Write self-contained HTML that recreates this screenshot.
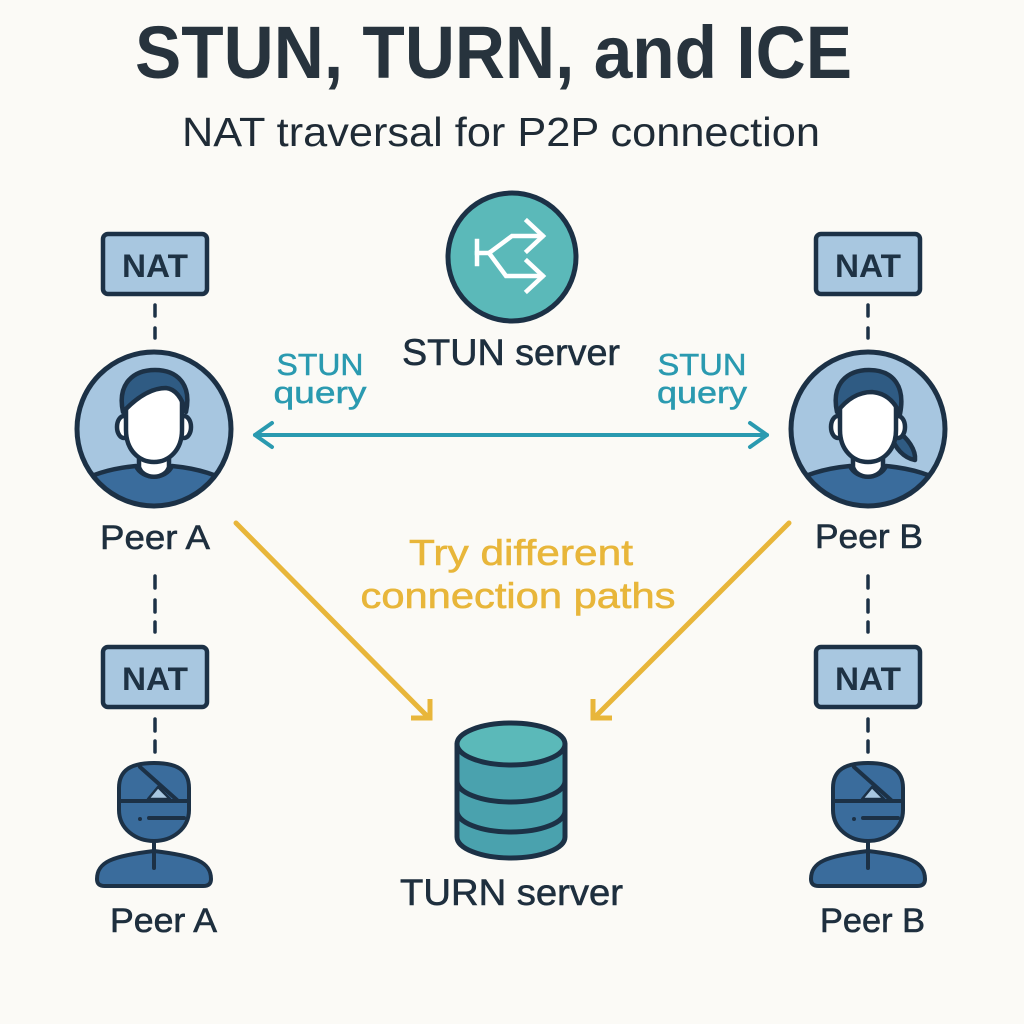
<!DOCTYPE html>
<html>
<head>
<meta charset="utf-8">
<style>
  html,body{margin:0;padding:0;background:#fbfaf6;}
  svg{display:block;}
  text{font-family:"Liberation Sans", sans-serif;}
</style>
</head>
<body>
<svg width="1024" height="1024" viewBox="0 0 1024 1024" xmlns="http://www.w3.org/2000/svg">
  <defs>
    <clipPath id="clipA"><circle cx="154" cy="429" r="76"/></clipPath>
    <clipPath id="clipB"><circle cx="868" cy="429" r="76"/></clipPath>
  </defs>
  <rect width="1024" height="1024" fill="#fbfaf6"/>

  <!-- Title -->
  <text x="135" y="78" font-size="74" font-weight="bold" fill="#27333d" textLength="717" lengthAdjust="spacingAndGlyphs">STUN, TURN, and ICE</text>
  <text x="182" y="146" font-size="41" fill="#1f2b36" textLength="638" lengthAdjust="spacingAndGlyphs">NAT traversal for P2P connection</text>

  <!-- NAT boxes -->
  <g stroke="#1c3146" stroke-width="4.5" fill="#a8c7e0">
    <rect x="103" y="234" width="104" height="60" rx="5"/>
    <rect x="816" y="234" width="104" height="60" rx="5"/>
    <rect x="103" y="647" width="104" height="60" rx="5"/>
    <rect x="816" y="647" width="104" height="60" rx="5"/>
  </g>
  <g font-size="32" font-weight="bold" fill="#1e3244" text-anchor="middle">
    <text x="155" y="277" textLength="66" lengthAdjust="spacingAndGlyphs">NAT</text>
    <text x="868" y="277" textLength="66" lengthAdjust="spacingAndGlyphs">NAT</text>
    <text x="155" y="690" textLength="66" lengthAdjust="spacingAndGlyphs">NAT</text>
    <text x="868" y="690" textLength="66" lengthAdjust="spacingAndGlyphs">NAT</text>
  </g>

  <!-- dashed connectors -->
  <g stroke="#1c3146" stroke-width="3.5" stroke-linecap="round">
    <line x1="155" y1="305" x2="155" y2="316"/><line x1="155" y1="328" x2="155" y2="338"/>
    <line x1="868" y1="305" x2="868" y2="316"/><line x1="868" y1="328" x2="868" y2="338"/>
    <line x1="155" y1="576" x2="155" y2="588"/><line x1="155" y1="600" x2="155" y2="612"/><line x1="155" y1="622" x2="155" y2="632"/>
    <line x1="868" y1="576" x2="868" y2="588"/><line x1="868" y1="600" x2="868" y2="612"/><line x1="868" y1="622" x2="868" y2="632"/>
    <line x1="155" y1="719" x2="155" y2="731"/><line x1="155" y1="741" x2="155" y2="752"/>
    <line x1="868" y1="719" x2="868" y2="731"/><line x1="868" y1="741" x2="868" y2="752"/>
  </g>

  <!-- Peer A big circle -->
  <g>
    <circle cx="154" cy="429" r="77" fill="#a7c6e0"/>
    <g clip-path="url(#clipA)" stroke="#1c3146" stroke-width="4.5" stroke-linejoin="round">
      <path d="M70,490 C85,474 115,468 136,466 C142,480 166,480 172,466 C193,468 223,474 238,490 L238,520 L70,520 Z" fill="#3a6c9c"/>
    </g>
    <g stroke="#1c3146" stroke-width="4.5" stroke-linejoin="round">
      <path d="M139,452 L139,467 C143,480 165,480 169,467 L169,452 Z" fill="#ffffff"/>
      <ellipse cx="124" cy="427" rx="7" ry="11" fill="#ffffff"/>
      <ellipse cx="184" cy="427" rx="7" ry="11" fill="#ffffff"/>
      <path d="M126,401 C126,384 139,377 154,377 C170,377 182,386 182,403 L182,430 C182,450 169,462 154,462 C139,462 126,450 126,430 Z" fill="#ffffff"/>
      <path d="M123,412 C117,384 133,370 155,370 C177,370 192,384 186,412 C182,398 176,389 166,388 C152,388 138,396 123,412 Z" fill="#2f5b83"/>
    </g>
    <circle cx="154" cy="429" r="77" fill="none" stroke="#1c3146" stroke-width="5"/>
  </g>

  <!-- Peer B big circle -->
  <g>
    <circle cx="868" cy="429" r="77" fill="#a7c6e0"/>
    <g clip-path="url(#clipB)" stroke="#1c3146" stroke-width="4.5" stroke-linejoin="round">
      <path d="M784,490 C799,474 829,468 850,466 C856,480 880,480 886,466 C907,468 937,474 952,490 L952,520 L784,520 Z" fill="#3a6c9c"/>
    </g>
    <g stroke="#1c3146" stroke-width="4.5" stroke-linejoin="round">
      <path d="M896,430 C908,438 916,450 915,460 C903,458 895,447 892,438 Z" fill="#2f5b83"/>
      <path d="M853,452 L853,467 C857,480 879,480 883,467 L883,452 Z" fill="#ffffff"/>
      <ellipse cx="838" cy="427" rx="7" ry="11" fill="#ffffff"/>
      <ellipse cx="898" cy="427" rx="7" ry="11" fill="#ffffff"/>
      <path d="M840,401 C840,384 853,377 868,377 C884,377 896,386 896,403 L896,430 C896,450 883,462 868,462 C853,462 840,450 840,430 Z" fill="#ffffff"/>
      <path d="M837,412 C831,384 847,370 869,370 C891,370 906,384 900,414 C894,400 884,393 872,392 C858,392 846,400 837,412 Z" fill="#2f5b83"/>
    </g>
    <circle cx="868" cy="429" r="77" fill="none" stroke="#1c3146" stroke-width="5"/>
  </g>

  <!-- Peer labels -->
  <g font-size="34" fill="#1e2f3e" stroke="#1e2f3e" stroke-width="0.6">
    <text x="100" y="549" textLength="110" lengthAdjust="spacingAndGlyphs">Peer A</text>
    <text x="815" y="548" textLength="108" lengthAdjust="spacingAndGlyphs">Peer B</text>
    <text x="110" y="932" textLength="107" lengthAdjust="spacingAndGlyphs">Peer A</text>
    <text x="820" y="932" textLength="105" lengthAdjust="spacingAndGlyphs">Peer B</text>
  </g>

  <!-- STUN server -->
  <circle cx="512" cy="257" r="64" fill="#5bb9b9" stroke="#1c3146" stroke-width="5"/>
  <g stroke="#ffffff" stroke-width="4.5" fill="none" stroke-linecap="square" stroke-linejoin="miter">
    <line x1="477" y1="241" x2="477" y2="264"/>
    <polyline points="477,253 489,253 512,236 542,236"/>
    <polyline points="489,253 506,276 542,276"/>
    <polyline points="527,221 543,236 527,251"/>
    <polyline points="527,261 543,276 527,291"/>
  </g>
  <text x="402" y="365" font-size="37" fill="#1e2f3e" stroke="#1e2f3e" stroke-width="0.6" textLength="218" lengthAdjust="spacingAndGlyphs">STUN server</text>

  <!-- STUN query labels -->
  <g font-size="31" fill="#2a9ab0" stroke="#2a9ab0" stroke-width="0.5" text-anchor="middle">
    <text x="320" y="375" textLength="87" lengthAdjust="spacingAndGlyphs">STUN</text>
    <text x="320" y="403" textLength="93" lengthAdjust="spacingAndGlyphs">query</text>
    <text x="702" y="375" textLength="89" lengthAdjust="spacingAndGlyphs">STUN</text>
    <text x="702" y="403" textLength="90" lengthAdjust="spacingAndGlyphs">query</text>
  </g>

  <!-- teal double arrow -->
  <g stroke="#2a9ab0" stroke-width="4" fill="none" stroke-linecap="round" stroke-linejoin="round">
    <line x1="255" y1="435" x2="767" y2="435"/>
    <polyline points="272,423 255,435 272,447"/>
    <polyline points="750,423 767,435 750,447"/>
  </g>

  <!-- yellow arrows -->
  <g stroke="#e8b63a" stroke-width="5" fill="none" stroke-linecap="round" stroke-linejoin="miter">
    <line x1="236" y1="523" x2="428" y2="717"/>
    <polyline points="430,699 430,718 411,718" stroke-linecap="butt"/>
    <line x1="789" y1="523" x2="595" y2="717"/>
    <polyline points="593,699 593,718 612,718" stroke-linecap="butt"/>
  </g>
  <g font-size="36" fill="#e8b63a" stroke="#e8b63a" stroke-width="0.6" text-anchor="middle">
    <text x="521" y="565" textLength="224" lengthAdjust="spacingAndGlyphs">Try different</text>
    <text x="518" y="608" textLength="315" lengthAdjust="spacingAndGlyphs">connection paths</text>
  </g>

  <!-- TURN server cylinder -->
  <g stroke="#1c3146" stroke-width="5" stroke-linejoin="round">
    <path d="M457,744 L457,837 A54,21 0 0 0 565,837 L565,744 Z" fill="#4aa2ae"/>
    <path d="M457,781 A54,21 0 0 0 565,781" fill="none"/>
    <path d="M457,811 A54,21 0 0 0 565,811" fill="none"/>
    <ellipse cx="511" cy="744" rx="54" ry="21" fill="#5bb9b9"/>
  </g>
  <text x="400" y="905" font-size="37" fill="#1e2f3e" stroke="#1e2f3e" stroke-width="0.6" textLength="223" lengthAdjust="spacingAndGlyphs">TURN server</text>

  <!-- small person A -->
  <g stroke="#1c3146" stroke-width="4" stroke-linejoin="round" stroke-linecap="round">
    <path d="M97,879 C97,862 112,856 154,851 C196,856 211,862 211,879 C211,884 208,886 203,886 L105,886 C100,886 97,884 97,879 Z" fill="#3a6c9c"/>
    <path d="M119,788 C119,770 131,763 154,763 C177,763 189,770 189,788 L189,810 C189,829 172,841 154,841 C136,841 119,829 119,810 Z" fill="#3a6c9c"/>
    <line x1="119" y1="801" x2="189" y2="801"/>
    <line x1="140" y1="767" x2="177" y2="800"/>
    <path d="M158,787 L148,799 L170,799 Z" fill="#a8c7e0" stroke-width="2.5"/>
    <line x1="149" y1="818" x2="184" y2="818"/>
    <line x1="154" y1="841" x2="154" y2="868"/>
    <circle cx="140" cy="819" r="1.5" fill="#1c3146" stroke-width="1"/>
  </g>

  <!-- small person B -->
  <g transform="translate(714,0)" stroke="#1c3146" stroke-width="4" stroke-linejoin="round" stroke-linecap="round">
    <path d="M97,879 C97,862 112,856 154,851 C196,856 211,862 211,879 C211,884 208,886 203,886 L105,886 C100,886 97,884 97,879 Z" fill="#3a6c9c"/>
    <path d="M119,788 C119,770 131,763 154,763 C177,763 189,770 189,788 L189,810 C189,829 172,841 154,841 C136,841 119,829 119,810 Z" fill="#3a6c9c"/>
    <line x1="119" y1="801" x2="189" y2="801"/>
    <line x1="140" y1="767" x2="177" y2="800"/>
    <path d="M158,787 L148,799 L170,799 Z" fill="#a8c7e0" stroke-width="2.5"/>
    <line x1="149" y1="818" x2="184" y2="818"/>
    <line x1="154" y1="841" x2="154" y2="868"/>
    <circle cx="140" cy="819" r="1.5" fill="#1c3146" stroke-width="1"/>
  </g>
</svg>
</body>
</html>
